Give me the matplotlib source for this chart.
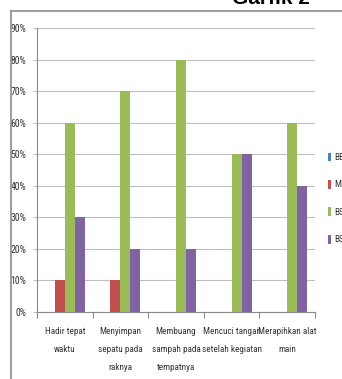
import matplotlib
matplotlib.use("Agg")
import matplotlib.pyplot as plt
import numpy as np
from matplotlib.lines import Line2D

categories = ["Hadir tepat\nwaktu", "Menyimpan\nsepatu pada\nraknya",
              "Membuang\nsampah pada\ntempatnya", "Mencuci tangan\nsetelah kegiatan",
              "Merapihkan alat\nmain"]
series_names = ["BB", "MB", "BSH", "BSB"]
bb = [0, 0, 0, 0, 0]
mb = [0.10, 0.10, 0, 0, 0]
bsh = [0.60, 0.70, 0.80, 0.50, 0.60]
bsb = [0.30, 0.20, 0.20, 0.50, 0.40]
yticks = [0, 0.1, 0.2, 0.3, 0.4, 0.5, 0.6, 0.7, 0.8, 0.9]
colors = ["#4F81BD", "#C0504D", "#9BBB59", "#8064A2"]

plt.rcParams['font.family'] = ['Roboto Condensed', 'DejaVu Sans']

fig = plt.figure(figsize=(3.42, 3.79), dpi=100)
ax = fig.add_axes([37/342, 1-312/379, 278/342, (312-28)/379])

x = np.arange(len(categories))
w = 0.18
for i, (vals, c, n) in enumerate(zip([bb, mb, bsh, bsb], colors, series_names)):
    ax.bar(x + (i - 1.5) * w, vals, width=w, color=c, label=n, zorder=3)

ax.set_xlim(-0.5, len(categories) - 0.5)
ax.set_ylim(0, 0.9)
ax.set_yticks(yticks)
ax.set_yticklabels([f"{int(round(t*100))}%" for t in yticks], fontsize=7, color="#333333")
ax.yaxis.grid(True, color="#BFBFBF", linewidth=0.8, zorder=0)
ax.set_xticks(x)
ax.set_xticklabels(categories, fontsize=6.6, linespacing=2.25, color="#333333")
ax.tick_params(axis='x', length=0, pad=11)
ax.set_xticks(np.arange(-0.5, len(categories)), minor=True)
ax.tick_params(axis='x', which='minor', length=4, color="#888888", width=0.8)
ax.tick_params(axis='y', length=3, color="#BFBFBF", pad=5)
for s in ["top", "right"]:
    ax.spines[s].set_visible(False)
ax.spines["left"].set_color("#888888")
ax.spines["bottom"].set_color("#888888")

leg = ax.legend(loc='center left', bbox_to_anchor=(1.045, 0.40), frameon=False,
                fontsize=6.6, handlelength=0.4, handleheight=1.1, handletextpad=0.3,
                labelspacing=1.95, borderpad=0, borderaxespad=0)
for t in leg.get_texts():
    t.set_color("#333333")

# outer chart frame
fig.add_artist(Line2D([11/342, 11/342], [0, 1-11/379], color="#8C8C8C", linewidth=1.2,
                      transform=fig.transFigure))
fig.add_artist(Line2D([11/342, 1], [1-11/379, 1-11/379], color="#8C8C8C", linewidth=1.2,
                      transform=fig.transFigure))

fig.text(271/342, 1-4/379, "Garfik 2", ha="center", va="baseline", fontsize=15,
         fontweight="bold", family=["Liberation Sans", "DejaVu Sans"])

fig.savefig("out.png", dpi=100)
